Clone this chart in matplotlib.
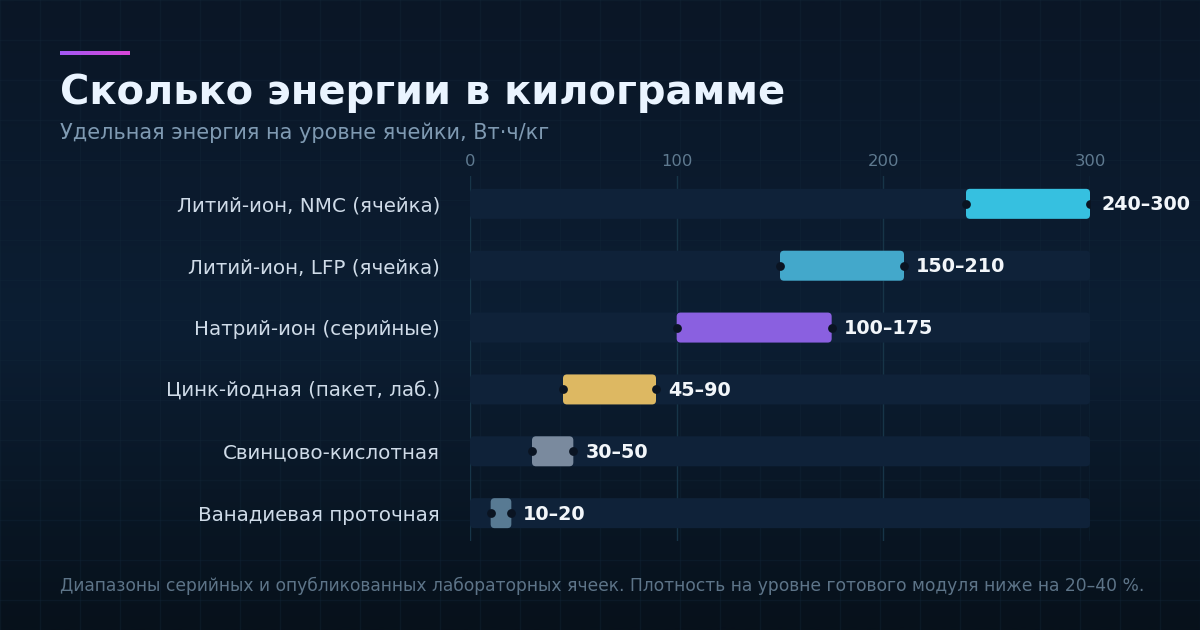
import numpy as np
import matplotlib
matplotlib.use("Agg")
import matplotlib.pyplot as plt
from matplotlib.patches import FancyBboxPatch
from matplotlib.colors import LinearSegmentedColormap

# data
categories = ["Литий-ион, NMC (ячейка)", "Литий-ион, LFP (ячейка)", "Натрий-ион (серийные)",
              "Цинк-йодная (пакет, лаб.)", "Свинцово-кислотная", "Ванадиевая проточная"]
low_vals = [240, 150, 100, 45, 30, 10]
high_vals = [300, 210, 175, 90, 50, 20]
bar_colors = ["#36c0e0", "#43a8cb", "#8a60e0", "#ddb862", "#7a8a9e", "#587a93"]
x_ticks = [0, 100, 200, 300]
x_max = 300

title = "Сколько энергии в килограмме"
subtitle = "Удельная энергия на уровне ячейки, Вт·ч/кг"
footer = "Диапазоны серийных и опубликованных лабораторных ячеек. Плотность на уровне готового модуля ниже на 20–40 %."

W, H = 1200, 630
fig = plt.figure(figsize=(W / 100, H / 100), dpi=100)

# background with gradient and faint grid
bg = fig.add_axes([0, 0, 1, 1], zorder=0)
grad = LinearSegmentedColormap.from_list("bg", ["#0a1626", "#0c1e33", "#07111b"])
yy = np.linspace(0, 1, 300).reshape(-1, 1)
prof = np.where(yy < 0.52, yy / 0.52 * 0.5, 0.5 + (yy - 0.52) / 0.48 * 0.5)
bg.imshow(prof, cmap=grad, aspect="auto", extent=[0, W, H, 0], vmin=0, vmax=1)
for gx in range(0, W + 1, 40):
    bg.axvline(gx, color="#13283a", lw=1, alpha=0.35)
for gy in range(0, H + 1, 40):
    bg.axhline(gy, color="#13283a", lw=1, alpha=0.35)
bg.set_xlim(0, W)
bg.set_ylim(H, 0)
bg.axis("off")

# accent line
acc = LinearSegmentedColormap.from_list("acc", ["#a259f4", "#d946d8"])
bg.imshow(np.linspace(0, 1, 50).reshape(1, -1), cmap=acc, aspect="auto",
          extent=[60, 130, 55.5, 51.5], zorder=3)
bg.set_xlim(0, W)
bg.set_ylim(H, 0)

fig.text(60 / W, 1 - 93 / H, title, fontsize=28.8, fontweight="bold", color="#eaf4ff",
         va="center", ha="left")
fig.text(60 / W, 1 - 133 / H, subtitle, fontsize=15, color="#7f9ab2", va="center", ha="left")
fig.text(60 / W, 1 - 586 / H, footer, fontsize=12.3, color="#5d7488", va="center", ha="left")

# chart axes: 0..300 maps to x 470..1090 px
ax = fig.add_axes([470 / W, 89 / H, 620 / W, 365 / H], zorder=2)
ax.patch.set_alpha(0)
n = len(categories)
ax.set_xlim(0, x_max)
ax.set_ylim(n - 1 + 0.45, -0.45)

px_x = 620 / x_max
px_y = 365 / (n - 1 + 0.9)
aspect = px_x / px_y
r = 4 / px_x
bh = 30 / px_y

for xv in x_ticks:
    ax.axvline(xv, color="#173548", lw=1, zorder=1)

for i in range(n):
    track = FancyBboxPatch((0, i - bh / 2), x_max, bh,
                           boxstyle="round,pad=0,rounding_size=%f" % r,
                           mutation_aspect=aspect, fc="#0f2239", ec="none", zorder=2)
    ax.add_patch(track)
    bar = FancyBboxPatch((low_vals[i], i - bh / 2), high_vals[i] - low_vals[i], bh,
                         boxstyle="round,pad=0,rounding_size=%f" % r,
                         mutation_aspect=aspect, fc=bar_colors[i], ec="none", zorder=3)
    ax.add_patch(bar)
    ax.annotate("%d–%d" % (low_vals[i], high_vals[i]), (high_vals[i], i + 0.015),
                xytext=(8.6, 0), textcoords="offset points", va="center", ha="left",
                fontsize=13.8, fontweight="bold", color="#f2f6fa", zorder=5)

ax.scatter(low_vals, range(n), s=40, color="#0a1422", zorder=4, lw=0)
ax.scatter(high_vals, range(n), s=40, color="#0a1422", zorder=4, lw=0)

ax.set_yticks(range(n))
ax.set_yticklabels(categories, fontsize=14.3, color="#cfdbe8")
ax.tick_params(axis="y", length=0, pad=21.6)
ax.xaxis.tick_top()
ax.set_xticks(x_ticks)
ax.set_xticklabels([str(t) for t in x_ticks], fontsize=11.8, color="#5f7a90")
ax.tick_params(axis="x", length=0, pad=5)
for s in ax.spines.values():
    s.set_visible(False)

fig.savefig("out.png", dpi=100, facecolor="#0a1626")
